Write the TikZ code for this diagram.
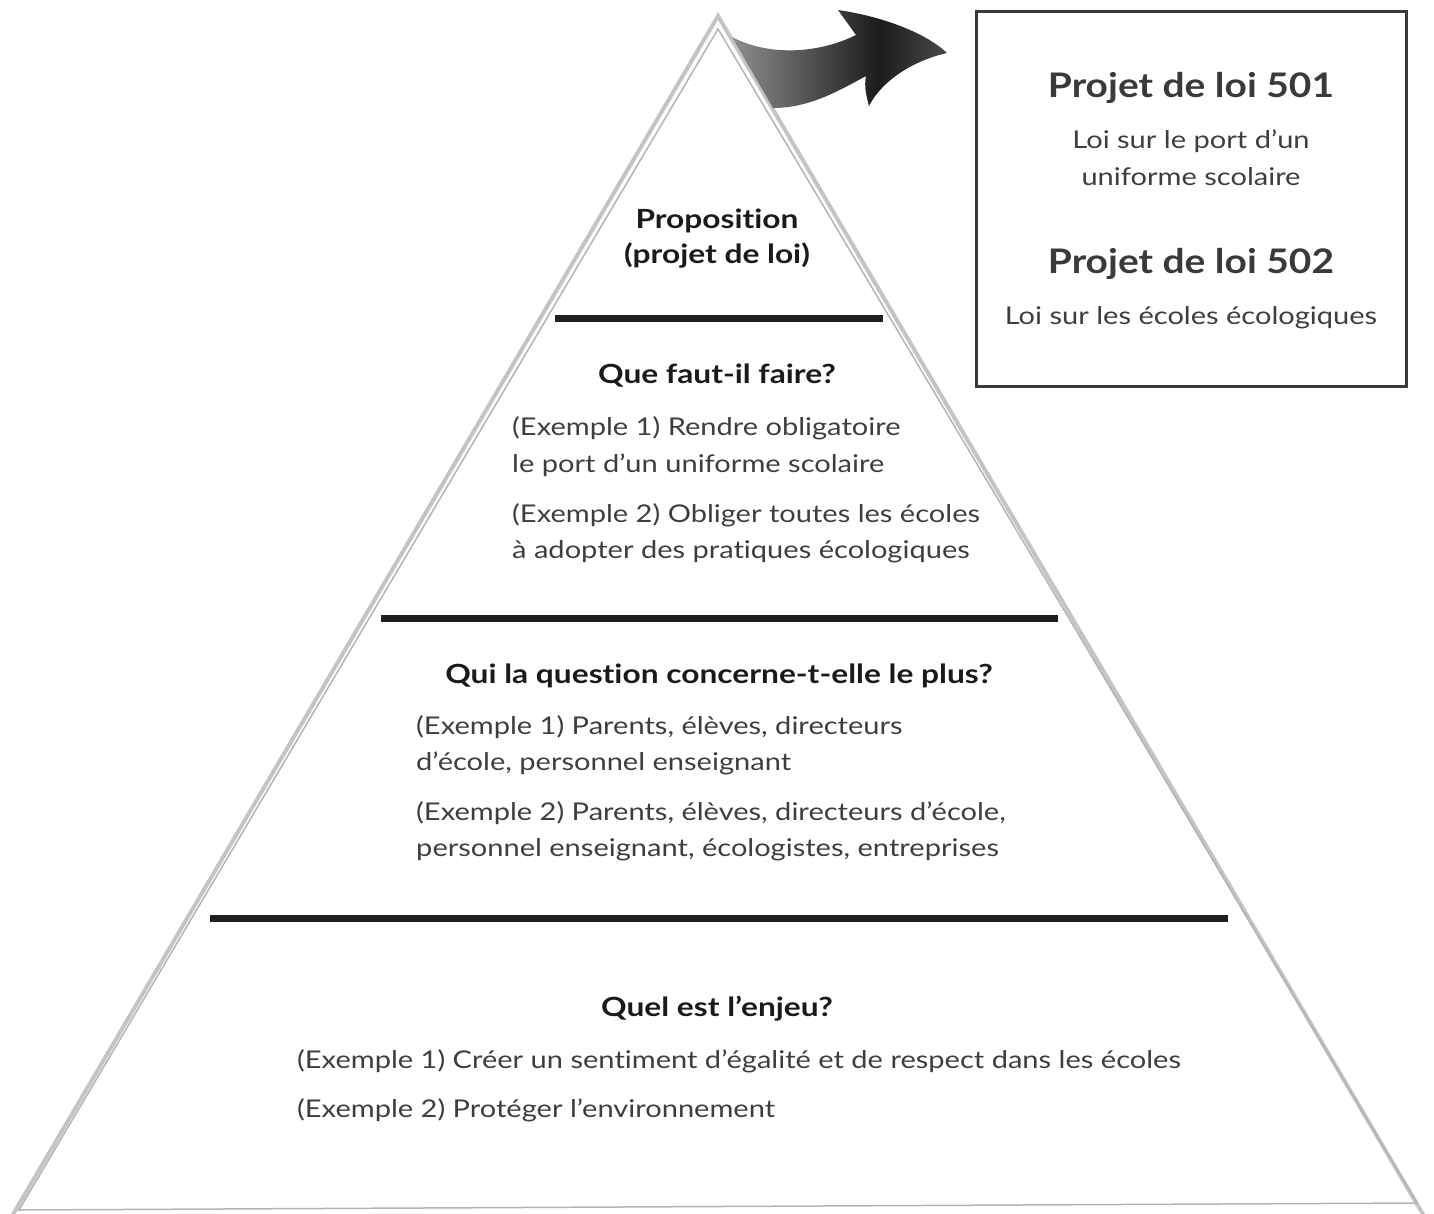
\documentclass[tikz,border=0pt]{standalone}
\usepackage{fontspec}
\setmainfont[Ligatures=NoCommon]{Lato}
\newfontfamily\bodyfont[Ligatures=NoCommon,FakeStretch=1.19]{Lato}
\newfontfamily\headfont[Ligatures=NoCommon,FakeStretch=1.2]{Lato}
\newfontfamily\bheadfont[Ligatures=NoCommon,FakeStretch=1.15]{Lato}
\definecolor{bodyc}{HTML}{3E3E3E}
\definecolor{headc}{HTML}{1A1A1A}
\definecolor{boxc}{HTML}{3A3A3A}
\definecolor{trigray}{HTML}{C4C4C4}
\definecolor{trithin}{HTML}{B4B4B4}
\definecolor{barc}{HTML}{1E1E1E}
\definecolor{arrA}{HTML}{8E8E90}
\definecolor{arrB}{HTML}{1C1C1C}
\definecolor{arrC}{HTML}{484848}
\pgfdeclarehorizontalshading{arrowshade}{100bp}{color(0bp)=(arrA); color(25bp)=(arrA); color(59bp)=(arrB); color(75bp)=(arrC); color(100bp)=(arrC)}
\begin{document}
\begin{tikzpicture}[x=1bp,y=-1bp,
  head/.style={font=\headfont\fontsize{26.5}{30}\selectfont\bfseries, text=headc, inner sep=0pt, anchor=base},
  body/.style={font=\bodyfont\fontsize{24.5}{29}\selectfont, text=bodyc, inner sep=0pt, anchor=base west},
  bhead/.style={font=\bheadfont\fontsize{34}{38}\selectfont\bfseries, text=boxc, inner sep=0pt, anchor=base},
  bbody/.style={font=\bodyfont\fontsize{24.5}{29}\selectfont, text=bodyc, inner sep=0pt, anchor=base},
  bar/.style={draw=barc, line width=7bp},
  outerline/.style={draw=trigray, line width=4bp},
  innerline/.style={draw=trithin, line width=1.5bp}]
\useasboundingbox (0,0) rectangle (1434,1213);
% pyramid
\draw[outerline] (12,1216) -- (718,16) -- (1424,1216);
\draw[innerline] (19,1210) -- (718,29) -- (1417,1203) -- cycle;
% arrow
\path[shading=arrowshade]
  (732,37) .. controls (770,57) and (820,53) .. (856,35)
  -- (838,10)
  .. controls (880,16) and (925,32) .. (947,53)
  .. controls (915,60) and (882,80) .. (869,106)
  .. controls (866,95) and (864,86) .. (866,76)
  .. controls (840,90) and (810,108) .. (773,108)
  -- cycle;
% box
\node[draw=boxc, line width=3bp, minimum width=430bp, minimum height=375bp, inner sep=0pt] (box) at (1191,198.5) {};
\node[bhead] (b501) at (1191,97) {Projet de loi 501};
\node[bbody] (b501a) at (1191,148) {Loi sur le port d’un};
\node[bbody] (b501b) at (1191,185) {uniforme scolaire};
\node[bhead] (b502) at (1191,273) {Projet de loi 502};
\node[bbody] (b502a) at (1191,324) {Loi sur les écoles écologiques};
% bars
\draw[bar] (555,318) -- (883,318);
\draw[bar] (381,618) -- (1058,618);
\draw[bar] (210,918) -- (1228,918);
% level 1
\node[head] (p1) at (717,228) {Proposition};
\node[head] (p2) at (717,263) {(projet de loi)};
% level 2
\node[head] (q2) at (717,383) {Que faut-il faire?};
\node[body] (q2a) at (512,435) {(Exemple 1) Rendre obligatoire};
\node[body] (q2b) at (512,472) {le port d’un uniforme scolaire};
\node[body] (q2c) at (512,522) {(Exemple 2) Obliger toutes les écoles};
\node[body] (q2d) at (512,558) {à adopter des pratiques écologiques};
% level 3
\node[head] (q3) at (719,683) {Qui la question concerne-t-elle le plus?};
\node[body] (q3a) at (416,734) {(Exemple 1) Parents, élèves, directeurs};
\node[body] (q3b) at (416,770) {d’école, personnel enseignant};
\node[body] (q3c) at (416,820) {(Exemple 2) Parents, élèves, directeurs d’école,};
\node[body] (q3d) at (416,856) {personnel enseignant, écologistes, entreprises};
% level 4
\node[head] (q4) at (717,1016) {Quel est l’enjeu?};
\node[body] (q4a) at (297,1068) {(Exemple 1) Créer un sentiment d’égalité et de respect dans les écoles};
\node[body] (q4b) at (297,1117) {(Exemple 2) Protéger l’environnement};
\end{tikzpicture}
\end{document}
